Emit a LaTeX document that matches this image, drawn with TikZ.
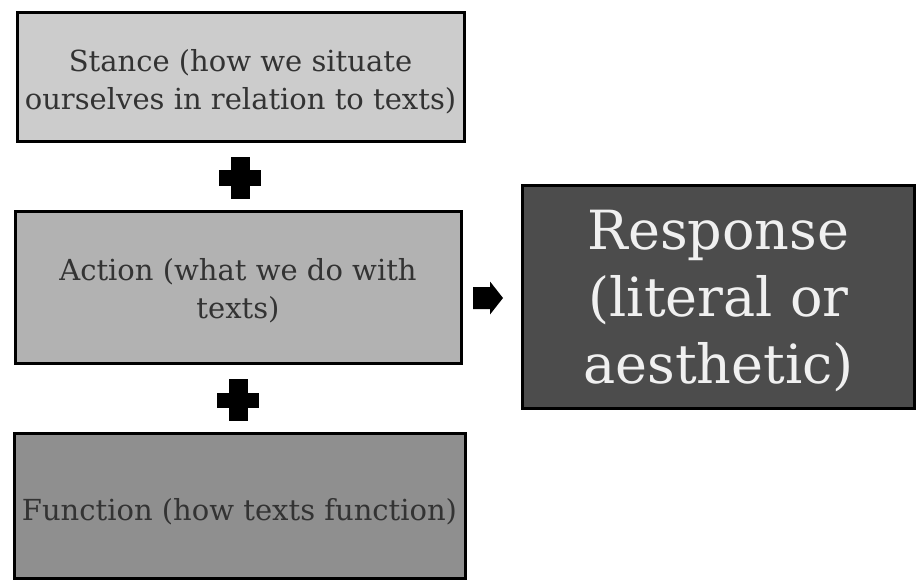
\documentclass[tikz,border=0pt]{standalone}
\usepackage{fontspec}
\setmainfont{DejaVu Serif}
\begin{document}
\begin{tikzpicture}[x=1pt,y=-1pt,
  box/.style={draw=black, line width=3pt, inner sep=0pt},
  smalltext/.style={font=\fontsize{29}{38}\selectfont, text=black!80, align=center},
  bigtext/.style={font=\fontsize{54}{67}\selectfont, text=white!94!black, align=center},
  plussign/.style={fill=black},
  blockarrow/.style={fill=black}]
  \useasboundingbox (0,0) rectangle (917,580);
  % three ingredient boxes, captions set a little below centre
  \node[box, fill=black!20, minimum width=447pt, minimum height=129pt,
    label={[smalltext, yshift=-4pt]center:Stance (how we situate\\ourselves in relation to texts)}]
    (stance) at (240.5,77.5) {};
  \node[box, fill=black!30, minimum width=446pt, minimum height=152pt,
    label={[smalltext, yshift=-3pt]center:Action (what we do with\\texts)}]
    (action) at (238,287.5) {};
  \node[box, fill=black!44, minimum width=451pt, minimum height=145pt,
    label={[smalltext, yshift=-6pt]center:Function (how texts function)}]
    (function) at (239.5,505.5) {};
  % result box
  \node[box, fill=black!70, minimum width=392pt, minimum height=223pt,
    label={[bigtext, yshift=-4pt]center:Response\\(literal or\\aesthetic)}]
    (response) at (718.5,297) {};
  % plus signs between the boxes
  \coordinate (p1) at (240,178);
  \coordinate (p2) at (238,400);
  \foreach \p in {p1,p2}{
    \fill[plussign] ([xshift=-21pt,yshift=-7.5pt]\p) rectangle ([xshift=21pt,yshift=7.5pt]\p);
    \fill[plussign] ([xshift=-9.5pt,yshift=-21pt]\p) rectangle ([xshift=9.5pt,yshift=21pt]\p);
  }
  % block arrow towards the result
  \coordinate (arr) at (473,298);
  \fill[blockarrow] (arr) ++(0,-11) -- ++(17,0) -- ++(0,-5.5) -- ++(13,16.5)
    -- ++(-13,16.5) -- ++(0,-5.5) -- ++(-17,0) -- cycle;
\end{tikzpicture}
\end{document}
